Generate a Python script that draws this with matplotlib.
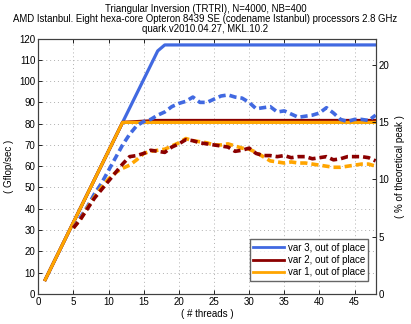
import matplotlib
matplotlib.use("Agg")
import matplotlib.pyplot as plt

plt.rcParams['font.family'] = ['Liberation Sans', 'DejaVu Sans']

# ideal (model) curves, Gflop/s vs. number of threads
model_threads = [1, 12, 17, 18, 48]
model_var3 = [6.7, 80.6, 114.2, 117.0, 117.0]
model_var2 = [6.7, 80.6, 81.5, 81.5, 81.5]
model_var1 = [6.7, 80.6, 80.6, 80.6, 80.6]

# measured curves
threads = list(range(5, 49))
meas_var3 = [31, 36, 41, 47, 52, 58, 64, 70, 75, 79, 81, 82, 84, 85.5, 88, 89.5,
             90.5, 92.5, 90, 90, 91.5, 93, 93.5, 92.5, 92, 90, 87, 87.5, 88, 85.5,
             86, 84.5, 83, 83.5, 84, 85, 87.5, 85, 82, 81, 82, 82, 81.5, 84]
meas_var2 = [31, 35, 40, 45, 49, 53, 57, 61, 64.5, 65, 66, 67.5, 67, 66.5, 69, 70.5,
             72.5, 72, 71, 70.5, 70, 69.5, 69, 67, 67.5, 68.5, 66, 65, 65, 64.5,
             65, 64, 64.5, 64.5, 63.5, 64, 64.5, 63, 63.5, 64.5, 64.5, 64.5, 64, 62.5]
meas_var1 = [31, 35, 40.5, 45.5, 50, 54, 57, 59, 60.5, 63, 66, 67, 67.5, 68, 69.5, 71,
             73, 72, 71.5, 71, 70, 70, 70.5, 69.5, 68.5, 68, 66.5, 64.5, 62.5, 62,
             61.5, 62, 61.5, 61.5, 61, 60.5, 60, 59.5, 59.5, 60, 60.5, 61, 61, 60]

peak = 537.6  # 48 cores * 2.8 GHz * 4 flops/cycle

c_blue = '#4169E1'
c_red = '#8B0000'
c_orange = '#FFA500'

fig = plt.figure(figsize=(4.11, 3.24), dpi=100)
ax = fig.add_axes([0.093, 0.093, 0.821, 0.788])

ax.plot(model_threads, model_var3, color=c_blue, lw=2.3, label='var 3, out of place')
ax.plot(model_threads, model_var2, color=c_red, lw=2.3, label='var 2, out of place')
ax.plot(model_threads, model_var1, color=c_orange, lw=2.3, label='var 1, out of place')

dash = (2.0, 1.1)
ax.plot(threads, meas_var3, color=c_blue, lw=2.6, dashes=dash)
ax.plot(threads, meas_var1, color=c_orange, lw=2.6, dashes=dash)
ax.plot(threads, meas_var2, color=c_red, lw=2.6, dashes=dash)

ax.set_xlim(0, 48)
ax.set_ylim(0, 120)
ax.set_xticks(range(0, 50, 5))
ax.set_yticks(range(0, 130, 10))
ax.grid(True, color='#b0b0b0', linestyle=(0, (1, 3)), linewidth=0.7)
ax.tick_params(direction='in', labelsize=7, length=3, width=0.6, top=True, pad=2)
for s in ax.spines.values():
    s.set_color('#404040')
    s.set_linewidth(0.8)

ax.set_xlabel('( # threads )', fontsize=7, labelpad=2)
ax.set_ylabel('( Gflop/sec )', fontsize=7, labelpad=4)

ax2 = ax.twinx()
ax2.set_ylim(0, 120 / peak * 100)
ax2.set_yticks([0, 5, 10, 15, 20])
ax2.tick_params(direction='in', labelsize=7, length=3, width=0.6, pad=2)
ax2.set_ylabel('( % of theoretical peak )', fontsize=7, labelpad=4)
for s in ax2.spines.values():
    s.set_color('#404040')
    s.set_linewidth(0.8)

leg = ax.legend(loc='lower right', fontsize=7, frameon=True, fancybox=False,
                edgecolor='#404040', handlelength=3.2, borderpad=0.35,
                labelspacing=0.25, handletextpad=0.35, borderaxespad=0,
                bbox_to_anchor=(0.978, 0.051))
leg.get_frame().set_linewidth(1.0)
for h in leg.get_lines():
    h.set_linewidth(2.0)

fig.text(0.5, 0.988,
         'Triangular Inversion (TRTRI), N=4000, NB=400\n'
         'AMD Istanbul. Eight hexa-core Opteron 8439 SE (codename Istanbul) processors 2.8 GHz\n'
         'quark.v2010.04.27, MKL.10.2',
         ha='center', va='top', fontsize=6.9, linespacing=1.0)

fig.savefig('out.png', dpi=100)
